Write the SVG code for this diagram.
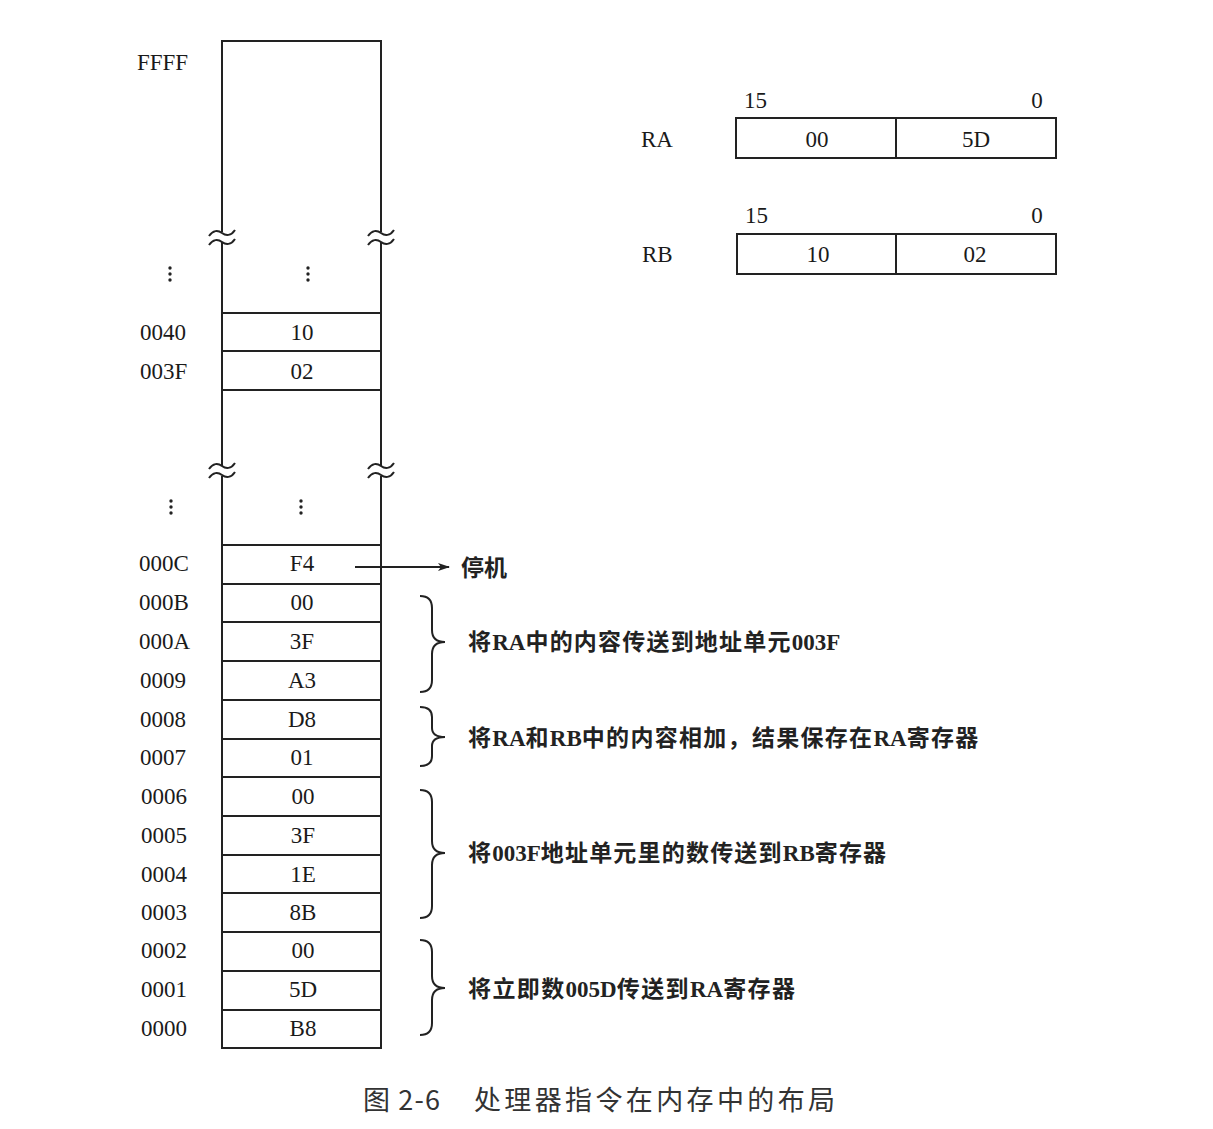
<svg xmlns="http://www.w3.org/2000/svg" width="1213" height="1129" viewBox="0 0 1213 1129">
<style>
.ln{stroke:#222;stroke-width:2;fill:none}
.cell{fill:#fff;stroke:#222;stroke-width:2}
.t{font-family:"Liberation Serif","Times New Roman",serif;font-size:23px;fill:#1a1a1a}
.v{font-family:"Liberation Serif","Times New Roman",serif;font-size:23px;fill:#1a1a1a;text-anchor:middle}
.lab{font-family:"Liberation Serif","Noto Sans CJK SC",serif;font-size:23px;font-weight:bold;fill:#222}
.cap{font-family:"Noto Sans CJK SC",sans-serif;font-size:27px;fill:#333}
.dot{fill:#222}
</style>
<defs>
<path id="tl" d="M -13,3 C -9,-3 -4,-3 0,0 S 9,3 13,-3" fill="none" stroke="#222" stroke-width="2"/>
<marker id="ah" markerWidth="12" markerHeight="8" refX="11" refY="4" orient="auto" markerUnits="userSpaceOnUse">
<path d="M0,0 L12,4 L0,8 L3,4 Z" fill="#222"/>
</marker>
</defs>

<g id="memory">
<path class="ln" d="M222,232 V41 H381 V232"/>
<path class="ln" d="M222,242 V466"/>
<path class="ln" d="M381,242 V466"/>
<path class="ln" d="M222,476 V1048 H381 V476"/>
<use href="#tl" x="222" y="233"/>
<use href="#tl" x="222" y="242"/>
<use href="#tl" x="381" y="233"/>
<use href="#tl" x="381" y="242"/>
<use href="#tl" x="222" y="466"/>
<use href="#tl" x="222" y="475"/>
<use href="#tl" x="381" y="466"/>
<use href="#tl" x="381" y="475"/>
<g class="ln">
<line x1="222" y1="313" x2="381" y2="313"/>
<line x1="222" y1="351" x2="381" y2="351"/>
<line x1="222" y1="390" x2="381" y2="390"/>
<line x1="222" y1="545" x2="381" y2="545"/>
<line x1="222" y1="584" x2="381" y2="584"/>
<line x1="222" y1="622" x2="381" y2="622"/>
<line x1="222" y1="661" x2="381" y2="661"/>
<line x1="222" y1="700" x2="381" y2="700"/>
<line x1="222" y1="739" x2="381" y2="739"/>
<line x1="222" y1="777" x2="381" y2="777"/>
<line x1="222" y1="816" x2="381" y2="816"/>
<line x1="222" y1="855" x2="381" y2="855"/>
<line x1="222" y1="893" x2="381" y2="893"/>
<line x1="222" y1="932" x2="381" y2="932"/>
<line x1="222" y1="971" x2="381" y2="971"/>
<line x1="222" y1="1010" x2="381" y2="1010"/>
</g>
<g class="dot">
<circle cx="170" cy="268" r="1.7"/><circle cx="170" cy="274" r="1.7"/><circle cx="170" cy="280" r="1.7"/>
<circle cx="308" cy="268" r="1.7"/><circle cx="308" cy="274" r="1.7"/><circle cx="308" cy="280" r="1.7"/>
<circle cx="171" cy="501" r="1.7"/><circle cx="171" cy="507" r="1.7"/><circle cx="171" cy="513" r="1.7"/>
<circle cx="301" cy="501" r="1.7"/><circle cx="301" cy="507" r="1.7"/><circle cx="301" cy="513" r="1.7"/>
</g>
<text class="t" x="137" y="70">FFFF</text>
<text class="t" x="140" y="340">0040</text><text class="v" x="302" y="340">10</text>
<text class="t" x="140" y="379">003F</text><text class="v" x="302" y="379">02</text>
<text class="t" x="139" y="571">000C</text><text class="v" x="302" y="571">F4</text>
<text class="t" x="139" y="610">000B</text><text class="v" x="302" y="610">00</text>
<text class="t" x="139" y="649">000A</text><text class="v" x="302" y="649">3F</text>
<text class="t" x="140" y="688">0009</text><text class="v" x="302" y="688">A3</text>
<text class="t" x="140" y="727">0008</text><text class="v" x="302" y="727">D8</text>
<text class="t" x="140" y="765">0007</text><text class="v" x="302" y="765">01</text>
<text class="t" x="141" y="804">0006</text><text class="v" x="303" y="804">00</text>
<text class="t" x="141" y="843">0005</text><text class="v" x="303" y="843">3F</text>
<text class="t" x="141" y="882">0004</text><text class="v" x="303" y="882">1E</text>
<text class="t" x="141" y="920">0003</text><text class="v" x="303" y="920">8B</text>
<text class="t" x="141" y="958">0002</text><text class="v" x="303" y="958">00</text>
<text class="t" x="141" y="997">0001</text><text class="v" x="303" y="997">5D</text>
<text class="t" x="141" y="1036">0000</text><text class="v" x="303" y="1036">B8</text>
</g>

<g id="register-RA">
<text class="t" x="641" y="147">RA</text>
<text class="t" x="744" y="108">15</text>
<text class="v" x="1037" y="108">0</text>
<rect class="cell" x="736" y="118" width="320" height="40"/>
<line class="ln" x1="896" y1="118" x2="896" y2="158"/>
<text class="v" x="817" y="147">00</text>
<text class="v" x="976" y="147">5D</text>
</g>

<g id="register-RB">
<text class="t" x="642" y="262">RB</text>
<text class="t" x="745" y="223">15</text>
<text class="v" x="1037" y="223">0</text>
<rect class="cell" x="737" y="234" width="319" height="40"/>
<line class="ln" x1="896" y1="234" x2="896" y2="274"/>
<text class="v" x="818" y="262">10</text>
<text class="v" x="975" y="262">02</text>
</g>

<g id="halt">
<text class="lab" x="461" y="576">停机</text>
</g>
<g id="note1"><text class="lab" x="468" y="650"><tspan letter-spacing="1.2">将</tspan><tspan>RA</tspan><tspan letter-spacing="1.2">中的内容传送到地址单元</tspan><tspan>003F</tspan></text></g>
<g id="note2"><text class="lab" x="468" y="746"><tspan letter-spacing="1.3">将</tspan><tspan>RA</tspan><tspan letter-spacing="1.3">和</tspan><tspan>RB</tspan><tspan letter-spacing="1.3">中的内容相加，结果保存在</tspan><tspan>RA</tspan><tspan letter-spacing="1.3">寄存器</tspan></text></g>
<g id="note3"><text class="lab" x="468" y="861"><tspan letter-spacing="1.2">将</tspan><tspan>003F</tspan><tspan letter-spacing="1.2">地址单元里的数传送到</tspan><tspan>RB</tspan><tspan letter-spacing="1.2">寄存器</tspan></text></g>
<g id="note4"><text class="lab" x="468" y="997"><tspan letter-spacing="1.4">将立即数</tspan><tspan>005D</tspan><tspan letter-spacing="1.4">传送到</tspan><tspan>RA</tspan><tspan letter-spacing="1.4">寄存器</tspan></text></g>

<g id="connectors">
<line class="ln" x1="355" y1="567" x2="449" y2="567" marker-end="url(#ah)"/>
<path class="ln" d="M420,596 Q432,596 432,608 L432,630 Q432,642 445,642 Q432,642 432,654 L432,680 Q432,692 420,692"/>
<path class="ln" d="M420,707 Q432,707 432,717 L432,728 Q432,737 445,737 Q432,737 432,746 L432,756 Q432,766 420,766"/>
<path class="ln" d="M420,790 Q432,790 432,802 L432,841 Q432,853 445,853 Q432,853 432,865 L432,906 Q432,918 420,918"/>
<path class="ln" d="M420,940 Q432,940 432,952 L432,976 Q432,988 445,988 Q432,988 432,1000 L432,1023 Q432,1035 420,1035"/>
</g>

<g id="caption">
<text class="cap" x="363" y="1110" textLength="77" lengthAdjust="spacing">图 2-6</text>
<text class="cap" x="474" y="1110" textLength="361" lengthAdjust="spacing">处理器指令在内存中的布局</text>
</g>
</svg>
